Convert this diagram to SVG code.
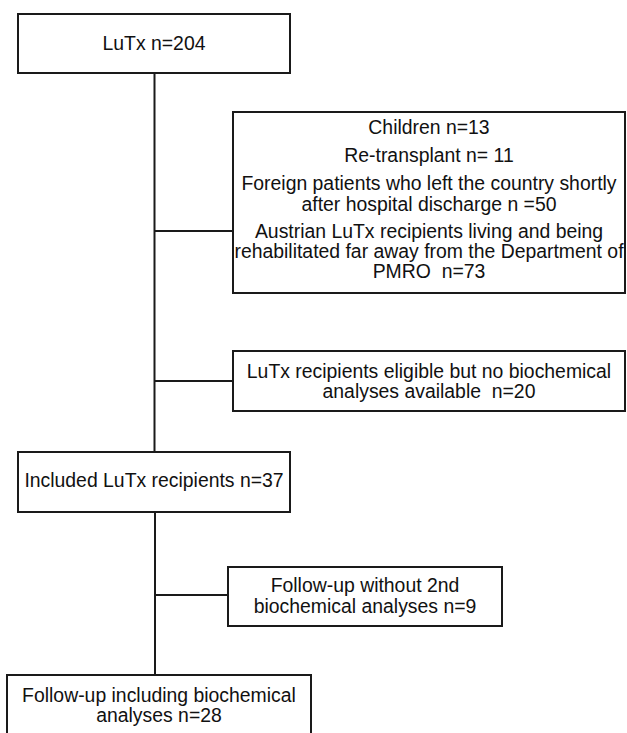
<svg xmlns="http://www.w3.org/2000/svg" width="627" height="733" viewBox="0 0 627 733">
<style>
.box{fill:#fff;stroke:#1a1a1a;stroke-width:2}
.conn{stroke:#1a1a1a;stroke-width:2;fill:none}
text{font-family:"Liberation Sans",Arial,sans-serif;font-size:19.4px;fill:#111;text-anchor:middle;white-space:pre}
</style>
<rect width="627" height="733" fill="#fff"/>
<g id="connectors">
<path class="conn" d="M154.5 73 V452"/>
<path class="conn" d="M154.5 231 H233"/>
<path class="conn" d="M154.5 381 H233"/>
<path class="conn" d="M155 512 V675"/>
<path class="conn" d="M155 595 H228"/>
</g>
<g id="n1">
<rect class="box" x="18" y="14" width="272" height="59"/>
<text x="154" y="50">LuTx n=204</text>
</g>
<g id="n2">
<rect class="box" x="233" y="112" width="392" height="181"/>
<text x="429" y="134">Children n=13</text>
<text x="429" y="162">Re-transplant n= 11</text>
<text x="429" y="190">Foreign patients who left the country shortly</text>
<text x="429" y="211">after hospital discharge n =50</text>
<text x="429" y="238">Austrian LuTx recipients living and being</text>
<text x="429" y="258">rehabilitated far away from the Department of</text>
<text x="429" y="278" xml:space="preserve">PMRO  n=73</text>
</g>
<g id="n3">
<rect class="box" x="233" y="351" width="392" height="60"/>
<text x="429" y="378">LuTx recipients eligible but no biochemical</text>
<text x="429" y="398" xml:space="preserve">analyses available  n=20</text>
</g>
<g id="n4">
<rect class="box" x="18" y="452" width="272" height="60"/>
<text x="154" y="487">Included LuTx recipients n=37</text>
</g>
<g id="n5">
<rect class="box" x="228" y="567" width="274" height="59"/>
<text x="365" y="592">Follow-up without 2nd</text>
<text x="365" y="613">biochemical analyses n=9</text>
</g>
<g id="n6">
<rect class="box" x="7" y="675" width="304" height="70"/>
<text x="159" y="702">Follow-up including biochemical</text>
<text x="159" y="722">analyses n=28</text>
</g>
</svg>
